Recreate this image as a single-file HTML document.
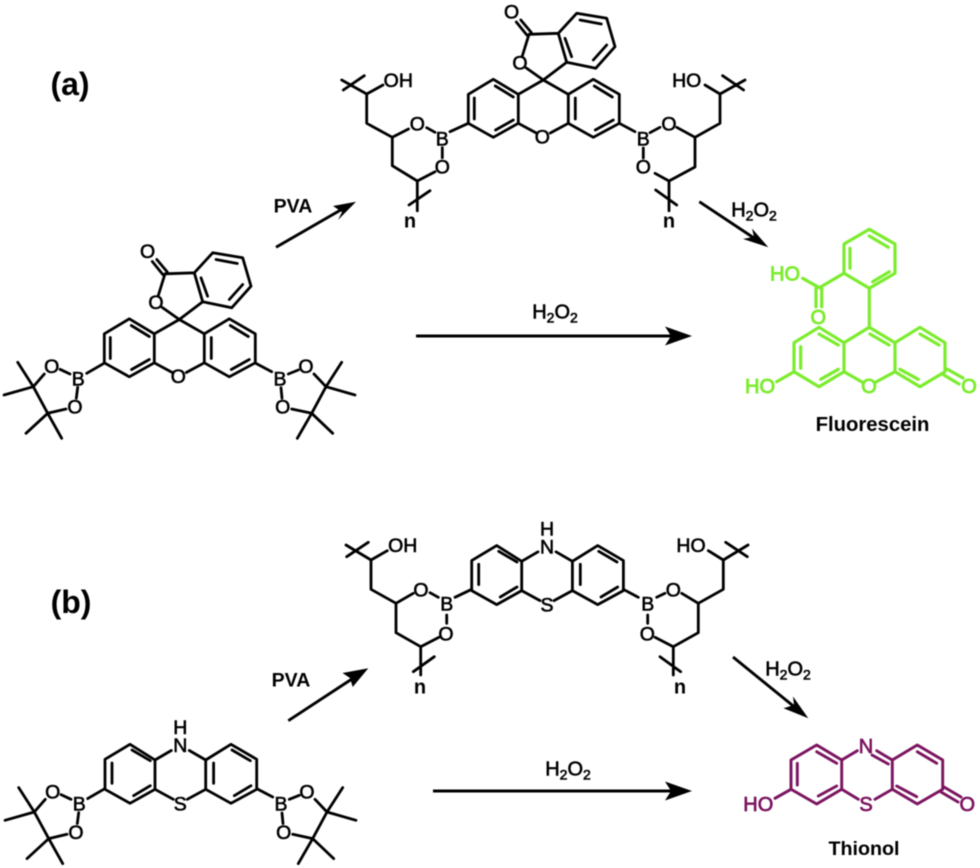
<!DOCTYPE html>
<html>
<head>
<meta charset="utf-8">
<style>
html,body{margin:0;padding:0;background:#fff;}
svg{display:block;filter:blur(.45px);}
text{font-family:"Liberation Sans",sans-serif;text-anchor:middle;}
.b{fill:none;stroke:#000;stroke-width:2.8;stroke-linecap:round;stroke-linejoin:round;}
.g{fill:none;stroke:#7cec2e;stroke-width:3.2;stroke-linecap:round;stroke-linejoin:round;}
.p{fill:none;stroke:#7b1460;stroke-width:2.9;stroke-linecap:round;stroke-linejoin:round;}
.a{font-size:19.5px;fill:#000;stroke:#000;stroke-width:.6;}
.ag{font-size:20px;fill:#7cec2e;stroke:#7cec2e;stroke-width:.9;}
.ap{font-size:20px;fill:#7b1460;stroke:#7b1460;stroke-width:.7;}
.l{font-size:19.5px;font-weight:bold;fill:#000;}
.h{font-size:20px;fill:#000;stroke:#000;stroke-width:.6;}
.h tspan{font-size:14px;}
.big{font-size:32px;font-weight:bold;fill:#000;}
.n{font-size:20px;font-weight:bold;fill:#000;}
</style>
</head>
<body>
<svg width="980" height="868" viewBox="0 0 980 868" xmlns="http://www.w3.org/2000/svg">
<rect width="980" height="868" fill="#fff"/>

<text class="big" x="70" y="95">(a)</text>
<text class="big" x="71" y="613">(b)</text>

<!-- spiro xanthene core, polymer (a) -->
<g transform="translate(543.3,80)">
  <path class="b" d="M-25,14.3L0,0L25,14.3M-7,53L-25,43.3L-25,14.3L-50,-.7L-75,14.3L-75,43.3L-50,57.3L-25,43.3M7,53L25,43.3L25,14.3L50,-.7L76,14.3L76,43.3L50,57.3L25,43.3M-48,6L-30,17M-69,18V39M-47.7,50L-30,40M51,6L69,17M32,18V39M52,50L70,40M0,0L-17,-12M-21,-24L-14.3,-45.7L15,-46.7L23.4,-17.7L0,0M-16.5,-45L-27,-58M-12,-47.5L-22.5,-60M15,-46.7L33.4,-66.7L63.4,-61.7L71.7,-33.3L52.4,-11.7L23.4,-17.7M36.7,-60L58,-56M63.4,-35L50,-20M21.7,-41.7L28.3,-23.3"/>
  <text class="a" x="-1" y="63.7">O</text>
  <text class="a" x="-23.3" y="-10.7">O</text>
  <text class="a" x="-31.7" y="-61.3">O</text>
</g>
<path class="b" d="M450,131.7L468.3,123.3M619.3,123.3L635,131.7M426.7,127.7L435,132.3M442.3,147.7V157.7M408.5,129L392.3,137.3V165.7L417.3,181L435,171.7M392.3,137.3L366.7,123.3V94L383,85M366.7,94L341.7,80M343.3,90L364.3,75.7M417.3,181V210.7M409,205L430,190.7M650,132.7L660,127.3M643.3,148V158M676.7,127.3L695,137.3V167L669,181L655,173.3M695,137.3L720,123.3V94L705,85M720,94L745,80M743.6,90L722.6,75.7M669,181V210.7M655.7,190L676.7,205"/>
<text class="a" x="442.3" y="145.3">B</text>
<text class="a" x="643.3" y="145.3">B</text>
<text class="a" x="417.3" y="130.3">O</text>
<text class="a" x="442.3" y="173.7">O</text>
<text class="a" x="669" y="130.3">O</text>
<text class="a" x="643.3" y="173.7">O</text>
<text class="a" x="398.3" y="87">OH</text>
<text class="a" x="686.7" y="87">HO</text>
<text class="n" x="410" y="227.5">n</text>
<text class="n" x="669" y="227.5">n</text>

<!-- spiro xanthene core, pinacol (a) -->
<g transform="translate(179.3,319.5)">
  <path class="b" d="M-25,14.3L0,0L25,14.3M-7,53L-25,43.3L-25,14.3L-50,-.7L-75,14.3L-75,43.3L-50,57.3L-25,43.3M7,53L25,43.3L25,14.3L50,-.7L76,14.3L76,43.3L50,57.3L25,43.3M-48,6L-30,17M-69,18V39M-47.7,50L-30,40M51,6L69,17M32,18V39M52,50L70,40M0,0L-17,-12M-21,-24L-14.3,-45.7L15,-46.7L23.4,-17.7L0,0M-16.5,-45L-27,-58M-12,-47.5L-22.5,-60M15,-46.7L33.4,-66.7L63.4,-61.7L71.7,-33.3L52.4,-11.7L23.4,-17.7M36.7,-60L58,-56M63.4,-35L50,-20M21.7,-41.7L28.3,-23.3"/>
  <text class="a" x="-1" y="63.7">O</text>
  <text class="a" x="-23.3" y="-10.7">O</text>
  <text class="a" x="-31.7" y="-61.3">O</text>
</g>
<g>
  <path class="b" d="M86.7,373.3L104,363.3M60,369.3L70,374M77.7,387.3L76.3,398.3M44.3,374L33.3,386.7L47.7,413.3L66,409M33.3,386.7L17.7,362.3M33.3,386.7L4,395M47.7,413.3L26,433.3M47.7,413.3L61.7,438.3M255.7,363.3L271.7,371.7M288.3,374L298.3,370M281,387.7L282,398.3M314,374L326,386.7L311.7,413.3L291.7,409M326,386.7L341.7,362.3M326,386.7L355,395M311.7,413.3L332.7,433.3M311.7,413.3L297.3,438.3"/>
  <text class="a" x="78.3" y="385.3">B</text>
  <text class="a" x="51.7" y="373">O</text>
  <text class="a" x="75" y="413.7">O</text>
  <text class="a" x="280" y="385.3">B</text>
  <text class="a" x="306" y="373">O</text>
  <text class="a" x="282.7" y="413.7">O</text>
</g>

<!-- Fluorescein -->
<path class="g" d="M869.3,327.3L844,342.7V371.7L819,386.7L794,371.7V342.7L819,327.3L844,342.7M869.3,327.3L895,342.7V371.7L920,386.7L945,371.7V342.7L920,327.3L895,342.7M844,371.7L862,382M895,371.7L876,382M819,334L838.3,345M800.7,346.7V368.3M820.7,379.3L838.3,369.3M870,334L889,345M920,334L939,345M900,369.3L918.3,379.3M947,369L963,378M943,374.5L959,384M794,371.7L776.7,381.7M869.3,327.3V288.3L895,273.3V244L869.3,229.3L844,244V273.3L869.3,288.3M850,248.3V268.3M869.3,236L888.3,247.3M872.7,281.7L889.3,271.7M844,273.3L819.3,287.7L802.7,278.3M816,288.3V306.7M821.7,288.3V306.7"/>
<text class="ag" x="869" y="393">O</text>
<text class="ag" x="969" y="393">O</text>
<text class="ag" x="760" y="393">HO</text>
<text class="ag" x="785" y="280.5">HO</text>
<text class="ag" x="818.3" y="324">O</text>
<text x="872.5" y="431" style="font-size:20.3px;font-weight:bold;fill:#000">Fluorescein</text>

<!-- phenothiazine core polymer (b) -->
<g transform="translate(547,546.3)">
  <path class="b" d="M-9,5.5L-25.3,15V44.3L-50.3,58.3L-75.3,44.3V14.3L-50.3,-.7L-25.3,15M9,5.5L25.4,15V44.3L50.7,58.3L76.4,44.3V14.3L50.7,-.7L25.4,15M-25.3,44.3L-7,54.3M25.4,44.3L7,54.3M-48.3,5L-30,15.7M-68.3,18V38.3M-46.7,50.7L-30,40.7M51.7,5L70,15.7M33.3,18V38.3M54,50.7L70.7,40.7"/>
  <text class="a" x="0" y="7">N</text>
  <text class="a" x="0" y="-11">H</text>
  <text class="a" x="0" y="65.3">S</text>
</g>
<path class="b" d="M455,597.3L471.7,589.3M623.3,589.3L638.3,597.3M430,592.7L438.3,597.3M446.7,615V623.3M413.3,593.3L396,603.3V632.7L420.7,646.7L439,637.3M396,603.3L371,589.3V560L387.3,550.7M371,560L346,545M346.7,556.7L368.3,542.3M420.7,646.7V675M413.3,671.7L434.3,656.7M656.7,597.3L665,593.3M647.7,615V623.3M681.7,593.3L698.3,603.3V632.7L673.3,646.7L655,637.3M698.3,603.3L723.3,589.3V560L708.3,550.7M723.3,560L748,545M747.3,556.7L725.7,542.3M673.3,646.7V675M660,656.7L680.7,671.7"/>
<text class="a" x="446.7" y="610.3">B</text>
<text class="a" x="647.7" y="610.3">B</text>
<text class="a" x="421" y="596.3">O</text>
<text class="a" x="446" y="640.3">O</text>
<text class="a" x="673.3" y="596.3">O</text>
<text class="a" x="647.3" y="640.3">O</text>
<text class="a" x="402.7" y="552">OH</text>
<text class="a" x="691" y="552">HO</text>
<text class="n" x="420" y="693.5">n</text>
<text class="n" x="680" y="693.5">n</text>

<!-- phenothiazine core pinacol (b) -->
<g transform="translate(180.3,745)">
  <path class="b" d="M-9,5.5L-25.3,15V44.3L-50.3,58.3L-75.3,44.3V14.3L-50.3,-.7L-25.3,15M9,5.5L25.4,15V44.3L50.7,58.3L76.4,44.3V14.3L50.7,-.7L25.4,15M-25.3,44.3L-7,54.3M25.4,44.3L7,54.3M-48.3,5L-30,15.7M-68.3,18V38.3M-46.7,50.7L-30,40.7M51.7,5L70,15.7M33.3,18V38.3M54,50.7L70.7,40.7"/>
  <text class="a" x="0" y="7">N</text>
  <text class="a" x="0" y="-11">H</text>
  <text class="a" x="0" y="65.3">S</text>
</g>
<g transform="translate(1,425.3)">
  <path class="b" d="M86.7,373.3L104,363.3M60,369.3L70,374M77.7,387.3L76.3,398.3M44.3,374L33.3,386.7L47.7,413.3L66,409M33.3,386.7L17.7,362.3M33.3,386.7L4,395M47.7,413.3L26,433.3M47.7,413.3L61.7,438.3M255.7,363.3L271.7,371.7M288.3,374L298.3,370M281,387.7L282,398.3M314,374L326,386.7L311.7,413.3L291.7,409M326,386.7L341.7,362.3M326,386.7L355,395M311.7,413.3L332.7,433.3M311.7,413.3L297.3,438.3"/>
  <text class="a" x="78.3" y="385.3">B</text>
  <text class="a" x="51.7" y="373">O</text>
  <text class="a" x="75" y="413.7">O</text>
  <text class="a" x="280" y="385.3">B</text>
  <text class="a" x="306" y="373">O</text>
  <text class="a" x="282.7" y="413.7">O</text>
</g>

<!-- Thionol -->
<path class="p" d="M857.3,750.7L841.7,760V789.3L816.7,804L791,789.3V760L816.7,745L841.7,760M876.7,750.7L892.3,760V789.3L917.3,804L942.7,789.3V760L917.3,745L892.3,760M872,755L888.3,764M841.7,789.3L858.3,799.3M875,799.3L892.3,789.3M816.7,751.7L836.7,763.3M797.3,763.3V785M818.3,796L836.7,786M917.3,751.7L936.7,763.3M896.7,786L916.7,796.7M944,787L961,797M941,792L958,802M791,789.3L775,798.3"/>
<text class="ap" x="866" y="753">N</text>
<text class="ap" x="866" y="811">S</text>
<text class="ap" x="967.3" y="811">O</text>
<text class="ap" x="758.3" y="811">HO</text>
<text x="864" y="855" style="font-size:19.7px;font-weight:bold;fill:#000">Thionol</text>

<!-- arrows -->
<path d="M276,247.3L345,207.5" stroke="#000" stroke-width="2.9" fill="none"/>
<path d="M356,201.7L333,206L342,212L338,220Z" fill="#000"/>
<path d="M699.3,201.7L757,240" stroke="#000" stroke-width="2.9" fill="none"/>
<path d="M768.3,247.3L743,239L754,236.7L752,228.5Z" fill="#000"/>
<path d="M416,336H680" stroke="#000" stroke-width="2.9" fill="none"/>
<path d="M692,336L665,326.5L671,336L665,345.5Z" fill="#000"/>
<path d="M288.3,720.7L358,675" stroke="#000" stroke-width="2.9" fill="none"/>
<path d="M368.3,668.3L342.5,673L350,678L352.7,687Z" fill="#000"/>
<path d="M733,657L797,709" stroke="#000" stroke-width="2.9" fill="none"/>
<path d="M808.3,718.3L783.5,708.3L794,705L793,696.5Z" fill="#000"/>
<path d="M433,791H680" stroke="#000" stroke-width="2.9" fill="none"/>
<path d="M692,791L665,781.5L671,791L665,800.5Z" fill="#000"/>

<text class="l" x="293" y="212.5">PVA</text>
<text class="l" x="291" y="686.5">PVA</text>
<text class="h" x="754" y="216.5">H<tspan dy="4">2</tspan><tspan dy="-4" style="font-size:20px">O</tspan><tspan dy="4">2</tspan></text>
<text class="h" x="555" y="318.5">H<tspan dy="4">2</tspan><tspan dy="-4" style="font-size:20px">O</tspan><tspan dy="4">2</tspan></text>
<text class="h" x="788" y="675.5">H<tspan dy="4">2</tspan><tspan dy="-4" style="font-size:20px">O</tspan><tspan dy="4">2</tspan></text>
<text class="h" x="568" y="775.5">H<tspan dy="4">2</tspan><tspan dy="-4" style="font-size:20px">O</tspan><tspan dy="4">2</tspan></text>
</svg>
</body>
</html>
